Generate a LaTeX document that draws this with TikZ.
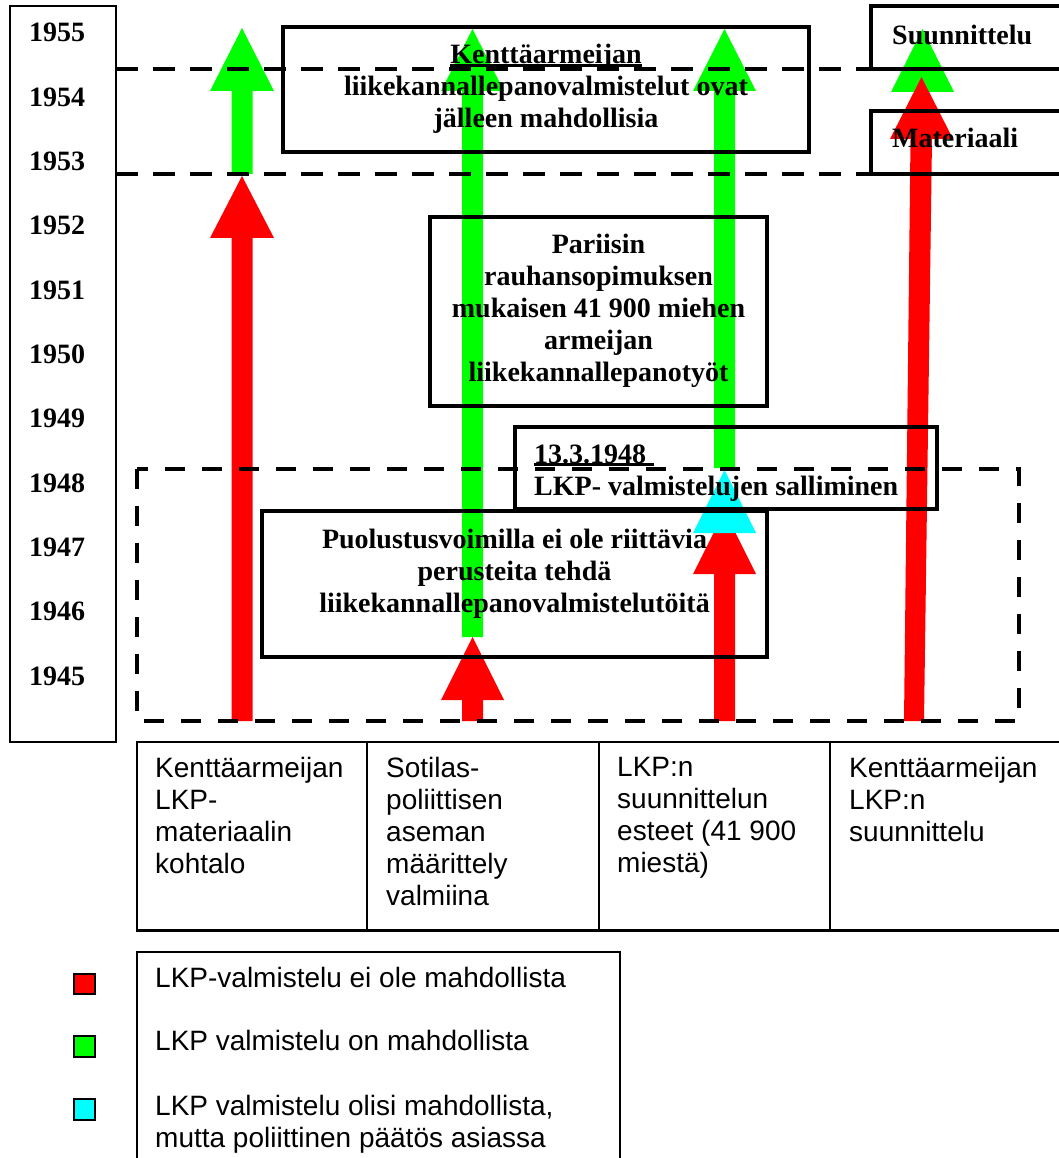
\documentclass[tikz,border=0pt]{standalone}
\usepackage{fontspec}
\setmainfont{Liberation Serif}
\newfontfamily\arialf{Liberation Sans}
\definecolor{ared}{RGB}{255,0,0}
\definecolor{agreen}{RGB}{0,255,0}
\definecolor{acyan}{RGB}{0,255,255}
\begin{document}
\begin{tikzpicture}[x=1pt,y=-1pt,
  bx/.style={draw=black,line width=4.5pt},
  thinbx/.style={draw=black,line width=2pt},
  dsh/.style={draw=black,line width=4.5pt,dash pattern=on 22pt off 15pt},
  dshbox/.style={draw=black,line width=4pt,dash pattern=on 20pt off 17pt},
  btxt/.style={font=\fontsize{28}{32}\selectfont\bfseries,inner sep=0pt,align=center},
  btxl/.style={font=\fontsize{28}{32}\selectfont\bfseries,inner sep=0pt,align=left},
  stxt/.style={font=\arialf\fontsize{28}{32}\selectfont,inner sep=0pt,align=left},
  yr/.style={font=\fontsize{28}{32}\selectfont\bfseries,inner sep=0pt,anchor=base west},
  redf/.style={fill=ared,draw=none},
  greenf/.style={fill=agreen,draw=none},
  cyanf/.style={fill=acyan,draw=none},
  sq/.style={draw=black,line width=2pt}]
\useasboundingbox (0,0) rectangle (1059,1158);
\fill[white] (0,0) rectangle (1059,1158);

% ---------- arrows ----------
% arrow 1
\path[redf] (231.5,721) -- (231.5,238) -- (210,238) -- (242,176) -- (274,238) -- (252.5,238) -- (252.5,721) -- cycle;
\path[greenf] (231.5,174) -- (231.5,91) -- (210,91) -- (242,28) -- (274,91) -- (252.5,91) -- (252.5,174) -- cycle;
% arrow 2
\path[greenf] (462,637) -- (462,91) -- (441,91) -- (472.5,29) -- (504,91) -- (483,91) -- (483,637) -- cycle;
\path[redf] (462,721) -- (462,700) -- (441,700) -- (472.5,637) -- (504,700) -- (483,700) -- (483,721) -- cycle;
% arrow 3
\path[greenf] (714,468) -- (714,91) -- (693,91) -- (724.5,29) -- (756,91) -- (735,91) -- (735,468) -- cycle;
\path[redf] (714,721) -- (714,574) -- (693,574) -- (724.5,511) -- (756,574) -- (735,574) -- (735,721) -- cycle;
\path[cyanf] (693,533) -- (724.5,470) -- (756,533) -- cycle;
% arrow 4
\path[greenf] (891,92) -- (922.5,29) -- (954,92) -- cycle;
\path[redf] (904,721) -- (910.5,139) -- (890,139) -- (921.5,77) -- (953,139) -- (932,139) -- (924,721) -- cycle;

% ---------- year column ----------
\draw[thinbx] (10,6) rectangle (116,742);
\foreach \yy [count=\i from 0] in {1955,1954,1953,1952,1951,1950,1949,1948,1947,1946,1945}
  \node[yr] (y\yy) at (29,{42+64.3*\i}) {\yy};

% ---------- dashed lines ----------
\draw[dsh] (116,69) -- (1059,69);
\draw[dsh] (116,174) -- (1059,174);
\draw[dshbox] (137,469) rectangle (1019,721);

% ---------- boxes ----------
\draw[bx] (283,27) rectangle (809,152);
\draw[bx] (430,217) rectangle (767,406);
\draw[bx] (515,427) rectangle (937,509);
\draw[bx] (262,511) rectangle (767,657);
\draw[bx] (1070,6) -- (871,6) -- (871,69) -- (1070,69);
\draw[bx] (1070,111) -- (871,111) -- (871,174) -- (1070,174);

% ---------- box texts ----------
\node[btxt,anchor=base] (kt) at (546,64) {Kenttäarmeijan};
\draw[line width=2.7pt] ([yshift=-1.5pt]kt.base west) -- ([yshift=-1.5pt]kt.base east);
\node[btxt,anchor=base] (kt2) at (546,96) {liikekannallepanovalmistelut ovat};
\node[btxt,anchor=base] (kt3) at (546,128) {jälleen mahdollisia};

\node[btxt,anchor=north] (par) at (598.5,234) {Pariisin\\rauhansopimuksen\\mukaisen 41 900 miehen\\armeijan\\liikekannallepanotyöt};

\node[btxl,anchor=base west] (d1) at (534,463) {13.3.1948};
\draw[line width=2.7pt] ([yshift=-1.5pt]d1.base west) -- ([xshift=8pt,yshift=-1.5pt]d1.base east);
\node[btxl,anchor=base west] (d2) at (534,495) {LKP- valmistelujen salliminen};

\node[btxt,anchor=north] (puo) at (514.5,529) {Puolustusvoimilla ei ole riittävia\\perusteita tehdä\\liikekannallepanovalmistelutöitä};

\node[btxl,anchor=base west] (suu) at (892,45) {Suunnittelu};
\node[btxl,anchor=base west] (mat) at (892,148) {Materiaali};

% ---------- table ----------
\draw[line width=2pt] (136.5,742) -- (1070,742);
\draw[line width=3pt] (135.5,930) -- (1070,930);
\foreach \xx in {136.5,367,599,830}
  \draw[line width=2pt] (\xx,741) -- (\xx,931);
\node[stxt,anchor=north west] (c1) at (155,757) {Kenttäarmeijan\\LKP-\\materiaalin\\kohtalo};
\node[stxt,anchor=north west] (c2) at (386,757) {Sotilas-\\poliittisen\\aseman\\määrittely\\valmiina};
\node[stxt,anchor=north west] (c3) at (617,757) {LKP:n\\suunnittelun\\esteet (41 900\\miestä)};
\node[stxt,anchor=north west] (c4) at (849,757) {Kenttäarmeijan\\LKP:n\\suunnittelu};

% ---------- legend ----------
\draw[thinbx] (136.5,1170) -- (136.5,952) -- (620,952) -- (620,1170);
\draw[sq,fill=ared] (74,974) rectangle (95,994);
\draw[sq,fill=agreen] (74,1036) rectangle (95,1057);
\draw[sq,fill=acyan] (74,1099) rectangle (95,1120);
\node[stxt,anchor=base west] (l1) at (155,987) {LKP-valmistelu ei ole mahdollista};
\node[stxt,anchor=base west] (l2) at (155,1050) {LKP valmistelu on mahdollista};
\node[stxt,anchor=base west] (l3) at (155,1115) {LKP valmistelu olisi mahdollista,};
\node[stxt,anchor=base west] (l4) at (155,1147) {mutta poliittinen päätös asiassa};
\end{tikzpicture}
\end{document}
